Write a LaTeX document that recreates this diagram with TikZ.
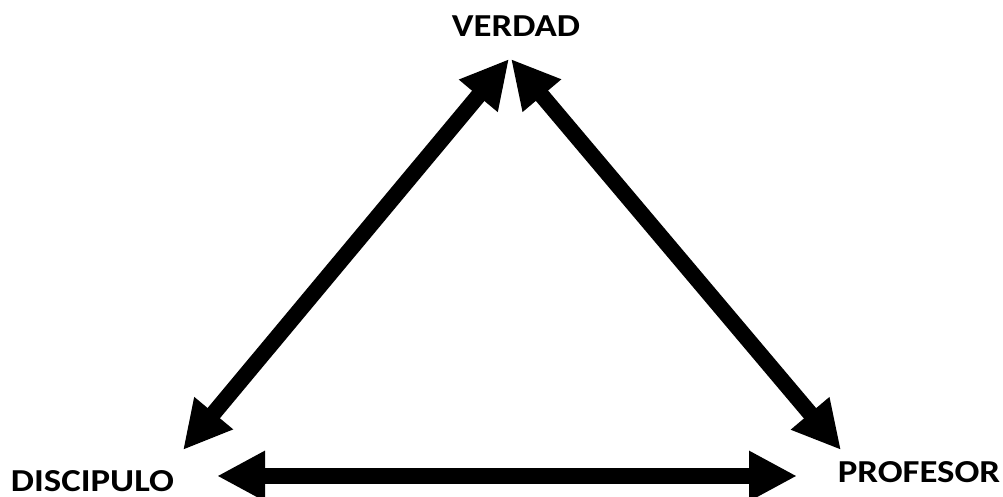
\documentclass[tikz,border=0pt]{standalone}
\usepackage{fontspec}
\setmainfont{Carlito}
\usetikzlibrary{arrows.meta,positioning}

\newcommand{\wide}[1]{\scalebox{1.15}[1]{#1}}

\begin{document}
\begin{tikzpicture}[
  x=1pt, y=1pt,
  lbl/.style={inner sep=0pt, anchor=base, font=\bfseries\fontsize{32}{36}\selectfont},
  arr/.style={{Triangle[length=48pt, width=47pt]}-{Triangle[length=48pt, width=47pt]}, line width=16pt}
]
\useasboundingbox (0,0) rectangle (1003,497);
\node[lbl] (verdad) at (516,460) {\wide{VERDAD}};
\node[lbl] (disc) at (92.5,5) {\wide{DISCIPULO}};
\node[lbl] (prof) at (919,14.5) {\wide{PROFESOR}};
\coordinate (vl) at (509,438);
\coordinate (vr) at (511,438);
\coordinate (dl) at (183,47);
\coordinate (pr) at (841,47);
\coordinate (hl) at (217,21);
\coordinate (hr) at (797,21);
\draw[arr] (dl) -- (vl);
\draw[arr] (vr) -- (pr);
\draw[arr] (hl) -- (hr);
\end{tikzpicture}
\end{document}
